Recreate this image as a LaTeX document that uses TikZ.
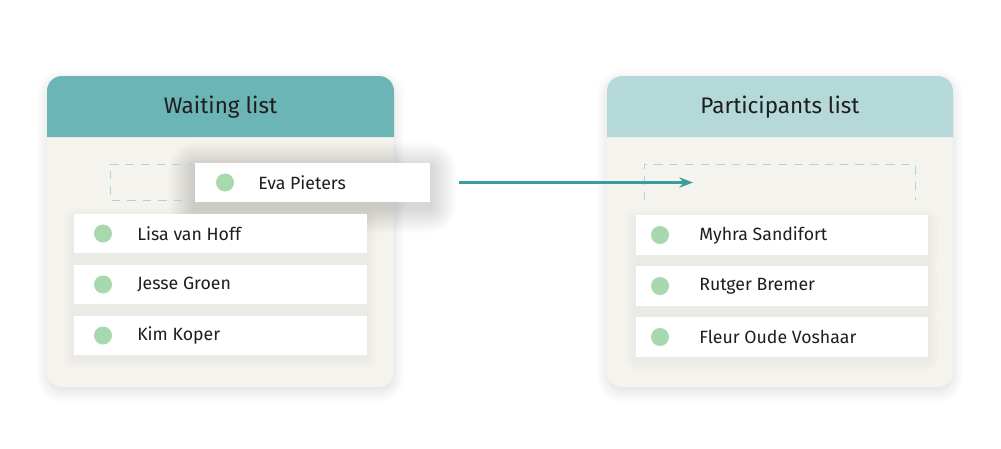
\documentclass[tikz,border=0pt]{standalone}
\usepackage{fontspec}
\setmainfont{Fira Sans}
\usetikzlibrary{arrows.meta, positioning, calc, shadows.blur}
\definecolor{tealdark}{HTML}{6BB5B6}
\definecolor{teallight}{HTML}{B5D9D8}
\definecolor{cardbody}{HTML}{F5F3ED}
\definecolor{dotgreen}{HTML}{A8D8AE}
\definecolor{arrowteal}{HTML}{3A9E9E}
\definecolor{dashteal}{HTML}{A8D8D6}
\definecolor{inktext}{HTML}{1E1E1E}

\pgfdeclarelayer{background}
\pgfdeclarelayer{shade}
\pgfsetlayers{background,shade,main}

\tikzset{
  card/.style={fill=cardbody, rounded corners=0.375cm,
    blur shadow={shadow blur steps=10, shadow xshift=0pt, shadow yshift=-3pt, shadow opacity=14, shadow blur radius=8pt}},
  itembox/.style={fill=white, inner sep=0pt, minimum height=0.975cm},
  statusdot/.style={circle, fill=dotgreen, inner sep=0pt, minimum size=0.45cm},
  persontxt/.style={anchor=west, inner sep=0pt, text=inktext, font=\fontsize{12.6}{14}\selectfont},
  cardtitle/.style={text=inktext, font=\fontsize{16}{18}\selectfont},
  slot/.style={draw=dashteal, line width=0.6pt, dash pattern=on 6pt off 5pt}
}

\begin{document}
\begin{tikzpicture}[x=0.025cm, y=-0.025cm, >=Stealth]
  \useasboundingbox (0,0) rectangle (1001,448);

  \begin{pgfonlayer}{background}
  % Waiting list card
  \fill[card] (47,76) rectangle (394,387);
  \fill[tealdark] (47,137) [rounded corners=0.375cm] -- (47,76) -- (394,76) [sharp corners] -- (394,137) -- cycle;
  % Participants list card
  \fill[card] (607,76) rectangle (953,387);
  \fill[teallight] (607,137) [rounded corners=0.375cm] -- (607,76) -- (953,76) [sharp corners] -- (953,137) -- cycle;
  \end{pgfonlayer}

  \node[cardtitle] (waittitle) at (220.5,107.5) {Waiting list};
  \node[cardtitle] (parttitle) at (780,107.5) {Participants list};

  % empty slots
  \draw[slot] (196,164) -- (110,164) -- (110,200) -- (196,200);
  \draw[slot] (644,200) -- (644,164) -- (915,164) -- (915,200);

  % waiting items
  \node[itembox, minimum width=7.325cm] (lisa) at (220.5,233.5) {};
  \node[statusdot] (lisadot) at (103,233.5) {};
  \node[persontxt] (lisatxt) at (137,233.5) {Lisa van Hoff};

  \node[itembox, minimum width=7.325cm] (jesse) at (220.5,284.5) {};
  \node[statusdot] (jessedot) at (103,284.5) {};
  \node[persontxt] (jessetxt) at (137,284.5) {Jesse Groen};

  \node[itembox, minimum width=7.325cm] (kim) at (220.5,335.5) {};
  \node[statusdot] (kimdot) at (103,335.5) {};
  \node[persontxt] (kimtxt) at (137,335.5) {Kim Koper};

  % participant items
  \node[itembox, minimum width=7.3cm] (myhra) at (782,235) {};
  \node[statusdot] (myhradot) at (660,235) {};
  \node[persontxt] (myhratxt) at (699,235) {Myhra Sandifort};

  \node[itembox, minimum width=7.3cm] (rutger) at (782,286) {};
  \node[statusdot] (rutgerdot) at (660,286) {};
  \node[persontxt] (rutgertxt) at (699,286) {Rutger Bremer};

  \node[itembox, minimum width=7.3cm] (fleur) at (782,337) {};
  \node[statusdot] (fleurdot) at (660,337) {};
  \node[persontxt] (fleurtxt) at (699,337) {Fleur Oude Voshaar};

  % moving item
  \node[itembox, minimum width=5.875cm] (eva) at (312.5,182.5) {};
  \node[statusdot] (evadot) at (225,182.5) {};
  \node[persontxt] (evatxt) at (258,182.5) {Eva Pieters};

  % soft shadows
  \begin{pgfonlayer}{shade}
  \foreach \n in {lisa,jesse,kim,myhra,rutger,fleur}
    \foreach \s in {1,...,9}
      \fill[black, opacity=0.0035, rounded corners=\s] ($(\n.south west)+(-1.2*\s,1.2*\s+4)$) rectangle ($(\n.north east)+(1.2*\s,-1.2*\s+4)$);
  \foreach \s in {1,...,20}
    \fill[black, opacity=0.006, rounded corners=\s] ($(eva.south west)+(-1.3*\s,1.3*\s+5)$) rectangle ($(eva.north east)+(1.3*\s,-1.3*\s+5)$);
  \end{pgfonlayer}

  % arrow
  \coordinate (arrstart) at (459,182.5);
  \coordinate (arrend) at (693,182.5);
  \draw[->, arrowteal, line width=1.5pt] (arrstart) -- (arrend);
\end{tikzpicture}
\end{document}
